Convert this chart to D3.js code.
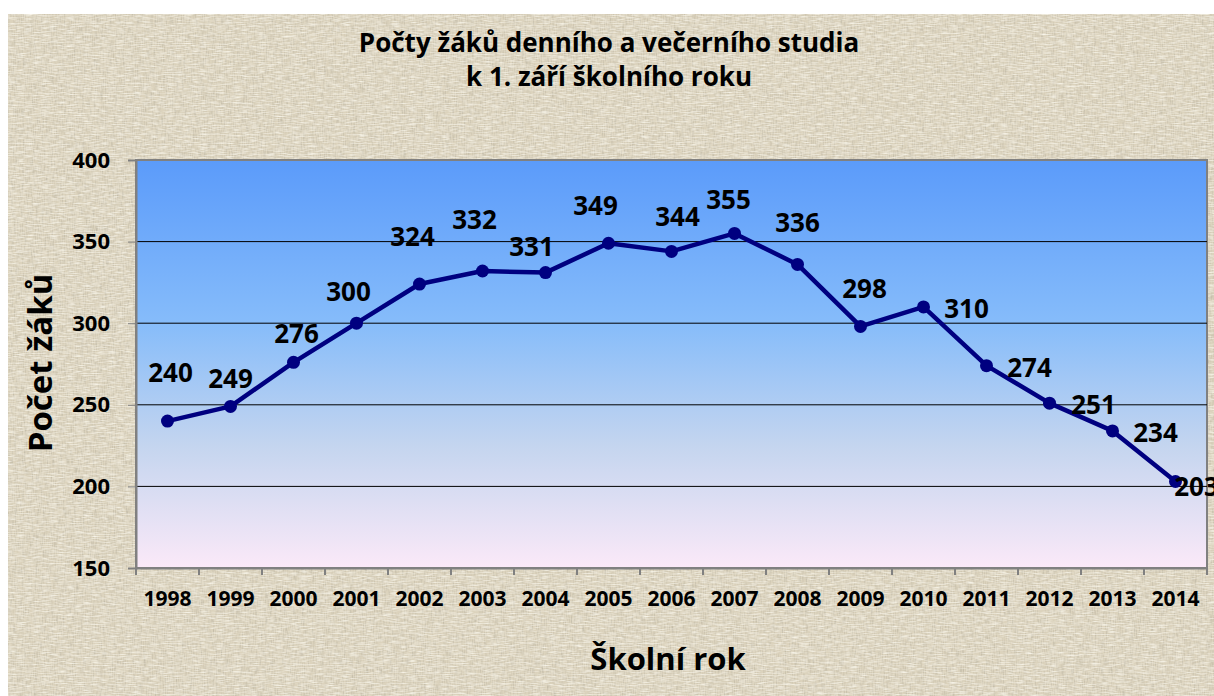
<!DOCTYPE html>
<html>
<head>
<meta charset="utf-8">
<title>Počty žáků</title>
<style>
  body { margin: 0; background: #fff; }
  svg text { font-family: "Open Sans", Lato, sans-serif; font-weight: bold; fill: #000; }
  .axis path, .axis line { stroke: #808080; }
</style>
</head>
<body>
<svg id="chart" width="1214" height="696"></svg>
<script src="https://d3js.org/d3.v7.min.js"></script>
<script>
// data
var years = ["1998","1999","2000","2001","2002","2003","2004","2005","2006","2007","2008","2009","2010","2011","2012","2013","2014"];
var pupils = [240, 249, 276, 300, 324, 332, 331, 349, 344, 355, 336, 298, 310, 274, 251, 234, 203];
var yTicks = [150, 200, 250, 300, 350, 400];
var gridValues = [200, 250, 300, 350];

// label placement relative to each point (dx, dy of baseline)
var labelOffsets = [[3,-39],[0,-18],[3,-19],[-8,-22],[-7,-38],[-8,-42],[-14,-17],[-13,-28],[6,-25],[-6,-24],[0,-32],[4,-28],[43,11],[43,11],[44,11],[43,11],[21,14]];

var svg = d3.select('#chart');
var W = 1214, H = 696;
var plot = { left: 136, top: 160, right: 1207, bottom: 568 };

var defs = svg.append('defs');

// parchment-like texture
var f = defs.append('filter').attr('id', 'paper').attr('x', 0).attr('y', 0).attr('width', '100%').attr('height', '100%');
f.append('feTurbulence').attr('type', 'fractalNoise').attr('baseFrequency', '0.9 0.12').attr('numOctaves', 2).attr('seed', 3).attr('result', 'n1');
f.append('feColorMatrix').attr('in', 'n1').attr('type', 'matrix')
  .attr('values', '0 0 0 0 0.5  0 0 0 0 0.46  0 0 0 0 0.36  1.5 0 0 0 -0.6').attr('result', 'c1');
f.append('feTurbulence').attr('type', 'fractalNoise').attr('baseFrequency', '0.12 0.9').attr('numOctaves', 2).attr('seed', 7).attr('result', 'n2');
f.append('feColorMatrix').attr('in', 'n2').attr('type', 'matrix')
  .attr('values', '0 0 0 0 1  0 0 0 0 0.98  0 0 0 0 0.9  1.5 0 0 0 -0.6').attr('result', 'c2');
var fm = f.append('feMerge');
fm.append('feMergeNode').attr('in', 'SourceGraphic');
fm.append('feMergeNode').attr('in', 'c1');
fm.append('feMergeNode').attr('in', 'c2');

svg.append('rect')
  .attr('x', 8).attr('y', 14).attr('width', W - 8).attr('height', H - 14)
  .attr('fill', '#dcd3bd')
  .attr('filter', 'url(#paper)');

var grad = defs.append('linearGradient').attr('id', 'plotbg')
  .attr('x1', 0).attr('y1', 0).attr('x2', 0).attr('y2', 1);
grad.append('stop').attr('offset', '0%').attr('stop-color', '#5b9bfa');
grad.append('stop').attr('offset', '40%').attr('stop-color', '#86bcfa');
grad.append('stop').attr('offset', '70%').attr('stop-color', '#c4d5ef');
grad.append('stop').attr('offset', '100%').attr('stop-color', '#fbe9f8');

var x = d3.scaleBand()
  .domain(years)
  .range([plot.left, plot.right])
  .padding(0);

var y = d3.scaleLinear()
  .domain([150, 400])
  .range([plot.bottom, plot.top]);

// plot area
svg.append('rect')
  .attr('x', plot.left).attr('y', plot.top)
  .attr('width', plot.right - plot.left).attr('height', plot.bottom - plot.top)
  .attr('fill', 'url(#plotbg)')
  .attr('stroke', '#808080').attr('stroke-width', 2);

// gridlines
svg.append('g').selectAll('line')
  .data(gridValues)
  .enter().append('line')
  .attr('x1', plot.left).attr('x2', plot.right)
  .attr('y1', function(d) { return y(d); })
  .attr('y2', function(d) { return y(d); })
  .attr('stroke', '#000').attr('stroke-width', 1);

// y axis
var yAxis = svg.append('g')
  .attr('class', 'axis')
  .attr('transform', 'translate(' + plot.left + ',0)')
  .call(d3.axisLeft(y).tickValues(yTicks).tickSize(8).tickPadding(18));
yAxis.select('.domain').attr('stroke-width', 2);
yAxis.selectAll('line').attr('stroke', '#555');
yAxis.selectAll('text').style('font-size', '22px').attr('fill', '#000');

// x axis: labels centred in bands, ticks at band edges
var xAxis = svg.append('g')
  .attr('class', 'axis')
  .attr('transform', 'translate(0,' + plot.bottom + ')')
  .call(d3.axisBottom(x).tickSize(0).tickPadding(23));
xAxis.select('.domain').attr('stroke-width', 2);
xAxis.selectAll('text').style('font-size', '21px').attr('fill', '#000');

var edges = years.map(function(d) { return x(d); }).concat([plot.right]);
svg.append('g').selectAll('line')
  .data(edges)
  .enter().append('line')
  .attr('x1', function(d) { return d; }).attr('x2', function(d) { return d; })
  .attr('y1', plot.bottom).attr('y2', plot.bottom + 7)
  .attr('stroke', '#808080').attr('stroke-width', 2);

// line and markers
var cx = function(d, i) { return x(years[i]) + x.bandwidth() / 2; };
var line = d3.line()
  .x(cx)
  .y(function(d) { return y(d); });

svg.append('path')
  .datum(pupils)
  .attr('d', line)
  .attr('fill', 'none')
  .attr('stroke', '#000080')
  .attr('stroke-width', 4.5)
  .attr('stroke-linejoin', 'round');

svg.append('g').selectAll('circle')
  .data(pupils)
  .enter().append('circle')
  .attr('cx', cx)
  .attr('cy', function(d) { return y(d); })
  .attr('r', 6.5)
  .attr('fill', '#000080');

svg.append('g').selectAll('text')
  .data(pupils)
  .enter().append('text')
  .attr('x', function(d, i) { return cx(d, i) + labelOffsets[i][0]; })
  .attr('y', function(d, i) { return y(d) + labelOffsets[i][1]; })
  .attr('text-anchor', 'middle')
  .style('font-size', '26px')
  .text(function(d) { return d; });

// titles
svg.append('text')
  .attr('x', 609).attr('y', 52)
  .attr('text-anchor', 'middle')
  .style('font-size', '26px')
  .text('Počty žáků denního a večerního studia');
svg.append('text')
  .attr('x', 609).attr('y', 86)
  .attr('text-anchor', 'middle')
  .style('font-size', '26px')
  .text('k 1. září školního roku');

svg.append('text')
  .attr('transform', 'translate(52,363) rotate(-90)')
  .attr('text-anchor', 'middle')
  .style('font-size', '33px')
  .text('Počet žáků');

svg.append('text')
  .attr('x', 668).attr('y', 670)
  .attr('text-anchor', 'middle')
  .style('font-size', '31px')
  .text('Školní rok');
</script>
</body>
</html>
